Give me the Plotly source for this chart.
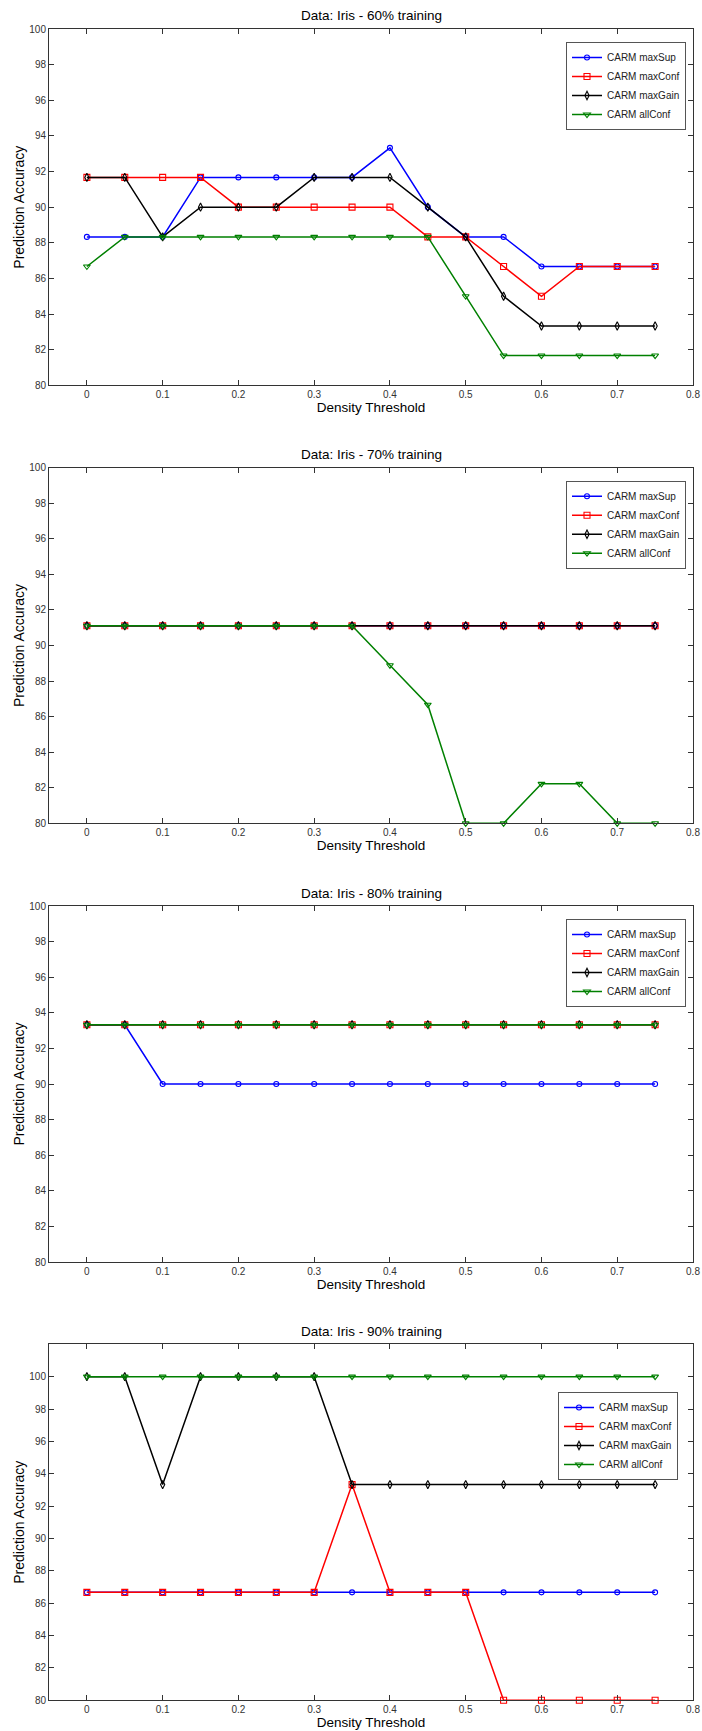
import plotly.graph_objects as go

# ---------------- data ----------------
thresholds = [0, 0.05, 0.1, 0.15, 0.2, 0.25, 0.3, 0.35, 0.4, 0.45, 0.5, 0.55, 0.6, 0.65, 0.7, 0.75]

series_names = ["CARM maxSup", "CARM maxConf", "CARM maxGain", "CARM allConf"]

panel_titles = [
    "Data: Iris - 60% training",
    "Data: Iris - 70% training",
    "Data: Iris - 80% training",
    "Data: Iris - 90% training",
]

# 60% training
iris60_maxSup = [88.33, 88.33, 88.33, 91.67, 91.67, 91.67, 91.67, 91.67, 93.33, 90.0, 88.33, 88.33, 86.67, 86.67, 86.67, 86.67]
iris60_maxConf = [91.67, 91.67, 91.67, 91.67, 90.0, 90.0, 90.0, 90.0, 90.0, 88.33, 88.33, 86.67, 85.0, 86.67, 86.67, 86.67]
iris60_maxGain = [91.67, 91.67, 88.33, 90.0, 90.0, 90.0, 91.67, 91.67, 91.67, 90.0, 88.33, 85.0, 83.33, 83.33, 83.33, 83.33]
iris60_allConf = [86.67, 88.33, 88.33, 88.33, 88.33, 88.33, 88.33, 88.33, 88.33, 88.33, 85.0, 81.67, 81.67, 81.67, 81.67, 81.67]

# 70% training
iris70_maxSup = [91.11] * 16
iris70_maxConf = [91.11] * 16
iris70_maxGain = [91.11] * 16
iris70_allConf = [91.11, 91.11, 91.11, 91.11, 91.11, 91.11, 91.11, 91.11, 88.89, 86.67, 80.0, 80.0, 82.22, 82.22, 80.0, 80.0]

# 80% training
iris80_maxSup = [93.33, 93.33, 90.0, 90.0, 90.0, 90.0, 90.0, 90.0, 90.0, 90.0, 90.0, 90.0, 90.0, 90.0, 90.0, 90.0]
iris80_maxConf = [93.33] * 16
iris80_maxGain = [93.33] * 16
iris80_allConf = [93.33] * 16

# 90% training
iris90_maxSup = [86.67] * 16
iris90_maxConf = [86.67, 86.67, 86.67, 86.67, 86.67, 86.67, 86.67, 93.33, 86.67, 86.67, 86.67, 80.0, 80.0, 80.0, 80.0, 80.0]
iris90_maxGain = [100.0, 100.0, 93.33, 100.0, 100.0, 100.0, 100.0, 93.33, 93.33, 93.33, 93.33, 93.33, 93.33, 93.33, 93.33, 93.33]
iris90_allConf = [100.0] * 16

panels = [
    [iris60_maxSup, iris60_maxConf, iris60_maxGain, iris60_allConf],
    [iris70_maxSup, iris70_maxConf, iris70_maxGain, iris70_allConf],
    [iris80_maxSup, iris80_maxConf, iris80_maxGain, iris80_allConf],
    [iris90_maxSup, iris90_maxConf, iris90_maxGain, iris90_allConf],
]

x_ticks = [0, 0.1, 0.2, 0.3, 0.4, 0.5, 0.6, 0.7, 0.8]
y_ticks = [80, 82, 84, 86, 88, 90, 92, 94, 96, 98, 100]
y_ranges = [[80, 100], [80, 100], [80, 100], [80, 102]]

# ---------------- style ----------------
W, H = 702, 1731
ML, MR = 49, 9
colors = ["#0000ff", "#ff0000", "#000000", "#008000"]
symbols = ["circle-open", "square-open", "diamond-tall-open", "triangle-down-open"]
msizes = [5, 6, 6, 6]
FONT = "Liberation Sans, Arial, sans-serif"

# plot area (top, bottom) in pixels for each panel
panel_px = [(29, 385.3), (467.7, 823.3), (906, 1262), (1344.3, 1700.3)]
# legend (left, top) in pixels
legend_px = [(566, 42), (566, 480.7), (566, 919), (558, 1392)]

fig = go.Figure()
layout = dict(
    width=W, height=H,
    margin=dict(l=ML, r=MR, t=0, b=0, pad=0),
    paper_bgcolor="white", plot_bgcolor="white",
    font=dict(family=FONT, color="#000000"),
    annotations=[],
)

plot_w = W - ML - MR
for k, (vals, title) in enumerate(zip(panels, panel_titles)):
    idx = "" if k == 0 else str(k + 1)
    xa, ya = "x" + idx, "y" + idx
    leg = "legend" + idx
    for name, yv, c, s, ms in zip(series_names, vals, colors, symbols, msizes):
        fig.add_trace(go.Scatter(
            x=thresholds, y=yv, name=name, mode="lines+markers",
            xaxis=xa, yaxis=ya, legend=leg,
            line=dict(color=c, width=1.5),
            marker=dict(symbol=s, size=ms, color=c, line=dict(color=c, width=1.1)),
            cliponaxis=False,
        ))
    top, bot = panel_px[k]
    dom = [1 - bot / H, 1 - top / H]
    layout["xaxis" + idx] = dict(
        domain=[0, 1], anchor=ya, range=[-0.05, 0.80001],
        tickvals=x_ticks, ticktext=[("%g" % v) for v in x_ticks],
        ticks="inside", ticklen=5, tickcolor="#333333", tickwidth=1,
        showline=True, linecolor="#333333", linewidth=1, mirror="ticks",
        showgrid=False, zeroline=False,
        tickfont=dict(family=FONT, size=10, color="#333333"),
        ticklabeloverflow="allow",
        title=dict(text="Density Threshold", font=dict(family=FONT, size=13.5, color="#000000"), standoff=3),
        automargin=False,
    )
    layout["yaxis" + idx] = dict(
        domain=dom, anchor=xa, range=y_ranges[k],
        tickvals=y_ticks, ticktext=[str(v) for v in y_ticks],
        ticks="inside", ticklen=5, tickcolor="#333333", tickwidth=1,
        showline=True, linecolor="#333333", linewidth=1, mirror="ticks",
        showgrid=False, zeroline=False,
        tickfont=dict(family=FONT, size=10, color="#333333"),
        title=dict(text="Prediction Accuracy", font=dict(family=FONT, size=14, color="#000000"), standoff=1),
        automargin=False,
    )
    ll, lt = legend_px[k]
    layout[leg] = dict(
        x=(ll - ML) / plot_w, y=1 - lt / H, xanchor="left", yanchor="top",
        bgcolor="white", bordercolor="#555555", borderwidth=1,
        font=dict(family=FONT, size=10, color="#222222"),
        tracegroupgap=0,
    )
    layout["annotations"].append(dict(
        text=title, xref="paper", yref="paper", x=0.5, y=1 - (top - 13) / H,
        xanchor="center", yanchor="middle", showarrow=False,
        font=dict(family=FONT, size=13.5, color="#000000"),
    ))

fig.update_layout(**layout)
fig.write_html(
    "out.html",
    config={"displayModeBar": False},
    post_script="document.body.style.margin='0';document.body.style.padding='0';",
)
